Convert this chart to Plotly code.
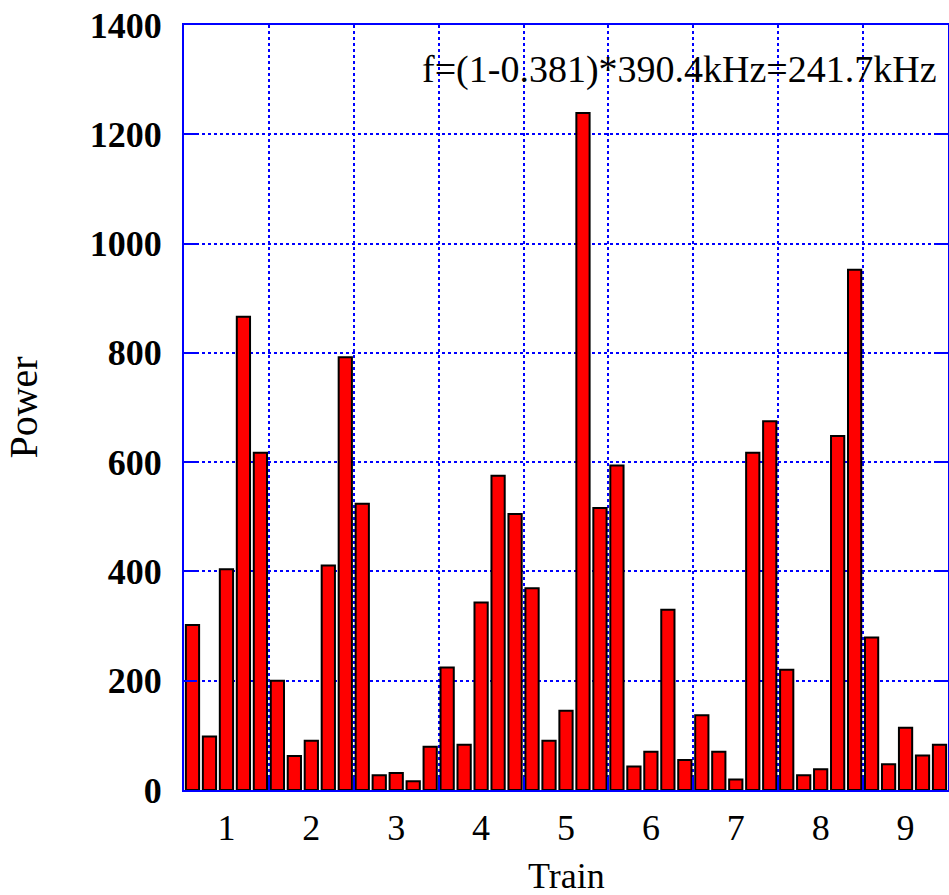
import plotly.graph_objects as go

# Power values, five bunches per train
train_1 = [302, 98, 404, 866, 617]
train_2 = [200, 62, 90, 411, 792]
train_3 = [524, 27, 31, 16, 79]
train_4 = [224, 83, 343, 575, 505]
train_5 = [369, 90, 145, 1239, 516]
train_6 = [594, 43, 70, 330, 55]
train_7 = [137, 70, 19, 617, 675]
train_8 = [220, 27, 38, 648, 952]
train_9 = [279, 47, 114, 63, 83]
trains = [train_1, train_2, train_3, train_4, train_5, train_6, train_7, train_8, train_9]
train_labels = ["1", "2", "3", "4", "5", "6", "7", "8", "9"]
note = "f=(1-0.381)*390.4kHz=241.7kHz"

per = len(train_1)
power = [v for t in trains for v in t]
xs = list(range(len(power)))
centers = [i * per + (per - 1) / 2 for i in range(len(trains))]
bounds = [i * per - 0.5 for i in range(1, len(trains))]

BLUE = "#0000ff"
SERIF = "Liberation Serif"

fig = go.Figure(go.Bar(
    x=xs, y=power,
    marker=dict(color="#ff0000", line=dict(color="#000000", width=2)),
))

fig.update_layout(
    width=949, height=895,
    margin=dict(l=184, r=1, t=25, b=105),
    paper_bgcolor="white", plot_bgcolor="white",
    showlegend=False, bargap=0.22,
    font=dict(family=SERIF, color="black"),
)

fig.update_xaxes(
    range=[-0.5, len(power) - 0.5], automargin=False,
    tickmode="array", tickvals=centers, ticktext=train_labels,
    ticks="", showgrid=False, zeroline=False,
    tickfont=dict(family=SERIF, size=36, color="black"),
    ticklabelstandoff=5,
    showline=True, linecolor=BLUE, linewidth=2, mirror=True,
    minor=dict(tickmode="array", tickvals=bounds, ticks="inside", ticklen=13,
               tickcolor=BLUE, tickwidth=2, showgrid=True, gridcolor=BLUE,
               gridwidth=1.5, griddash="dot"),
)

fig.update_yaxes(
    range=[0, 1400], tickmode="linear", tick0=0, dtick=200, automargin=False,
    ticks="inside", ticklen=13, tickcolor=BLUE, tickwidth=2,
    showgrid=True, gridcolor=BLUE, gridwidth=1.5, griddash="dot",
    zeroline=False,
    showline=True, linecolor=BLUE, linewidth=2, mirror="ticks",
    tickfont=dict(family=SERIF, size=36, color="black", weight="bold"),
    ticklabelstandoff=13,
    title=dict(text="Power", font=dict(family=SERIF, size=40, color="black"), standoff=40),
)

fig.add_annotation(
    text="Train", xref="paper", yref="paper", x=0.5, y=-0.1125,
    xanchor="center", yanchor="middle", showarrow=False,
    font=dict(family=SERIF, size=36, color="black"),
)

fig.add_annotation(
    text=note, xref="paper", yref="paper", x=0.988, y=0.942,
    xanchor="right", yanchor="middle", showarrow=False,
    font=dict(family=SERIF, size=38, color="black"),
)

fig.write_html(
    "out.html",
    config={"displayModeBar": False},
    post_script="document.body.style.margin='0';document.body.style.overflow='hidden';",
)
